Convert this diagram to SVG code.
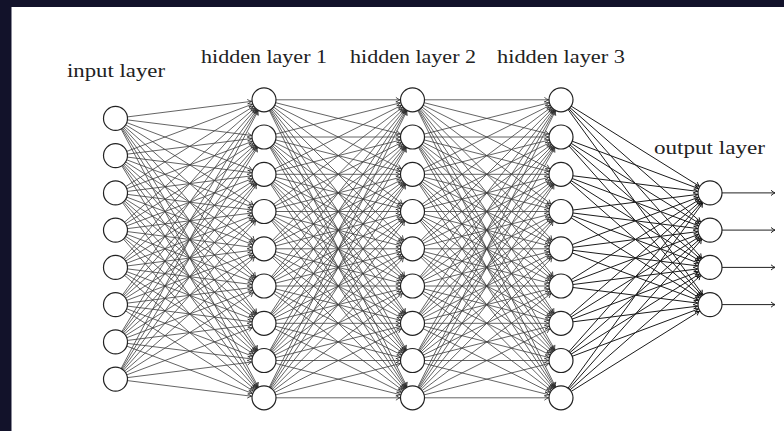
<svg xmlns="http://www.w3.org/2000/svg" xmlns:xlink="http://www.w3.org/1999/xlink" width="784" height="431" viewBox="0 0 784 431">
<style>
.e line{stroke:#3c3c3c;stroke-width:0.8;marker-end:url(#ah)}
.eo line{stroke:#1a1a1a;stroke-width:1;marker-end:url(#ah2)}
.n circle{fill:#fff;stroke:#222;stroke-width:1.2}
.t{font-family:"Liberation Serif","DejaVu Serif",serif;font-size:18px;fill:#222;text-anchor:middle}
.out{stroke:#222;stroke-width:1;marker-end:url(#ao)}
</style>
<defs>
<marker id="ah" markerUnits="userSpaceOnUse" orient="auto" refX="12.6" refY="0" markerWidth="10" markerHeight="10" overflow="visible"><path d="M-4,-2.4 Q-1.6,-0.6 0,0 Q-1.6,0.6 -4,2.4" fill="none" stroke="#2a2a2a" stroke-width="0.8"/></marker>
<marker id="ah2" markerUnits="userSpaceOnUse" orient="auto" refX="12.6" refY="0" markerWidth="10" markerHeight="10" overflow="visible"><path d="M-4,-2.4 Q-1.6,-0.6 0,0 Q-1.6,0.6 -4,2.4" fill="none" stroke="#111" stroke-width="0.9"/></marker>
<marker id="ao" markerUnits="userSpaceOnUse" orient="auto" refX="0" refY="0" markerWidth="10" markerHeight="10" overflow="visible"><path d="M-4,-2.6 Q-1.6,-0.6 0,0 Q-1.6,0.6 -4,2.6" fill="none" stroke="#222" stroke-width="1"/></marker>
<g id="hh" class="e">
<line y1="99.8" x2="148.5" y2="99.8"/><line y1="99.8" x2="148.5" y2="137"/><line y1="99.8" x2="148.5" y2="174.3"/><line y1="99.8" x2="148.5" y2="211.5"/><line y1="99.8" x2="148.5" y2="248.8"/><line y1="99.8" x2="148.5" y2="286"/><line y1="99.8" x2="148.5" y2="323.3"/><line y1="99.8" x2="148.5" y2="360.5"/><line y1="99.8" x2="148.5" y2="397.8"/>
<line y1="137" x2="148.5" y2="99.8"/><line y1="137" x2="148.5" y2="137"/><line y1="137" x2="148.5" y2="174.3"/><line y1="137" x2="148.5" y2="211.5"/><line y1="137" x2="148.5" y2="248.8"/><line y1="137" x2="148.5" y2="286"/><line y1="137" x2="148.5" y2="323.3"/><line y1="137" x2="148.5" y2="360.5"/><line y1="137" x2="148.5" y2="397.8"/>
<line y1="174.3" x2="148.5" y2="99.8"/><line y1="174.3" x2="148.5" y2="137"/><line y1="174.3" x2="148.5" y2="174.3"/><line y1="174.3" x2="148.5" y2="211.5"/><line y1="174.3" x2="148.5" y2="248.8"/><line y1="174.3" x2="148.5" y2="286"/><line y1="174.3" x2="148.5" y2="323.3"/><line y1="174.3" x2="148.5" y2="360.5"/><line y1="174.3" x2="148.5" y2="397.8"/>
<line y1="211.5" x2="148.5" y2="99.8"/><line y1="211.5" x2="148.5" y2="137"/><line y1="211.5" x2="148.5" y2="174.3"/><line y1="211.5" x2="148.5" y2="211.5"/><line y1="211.5" x2="148.5" y2="248.8"/><line y1="211.5" x2="148.5" y2="286"/><line y1="211.5" x2="148.5" y2="323.3"/><line y1="211.5" x2="148.5" y2="360.5"/><line y1="211.5" x2="148.5" y2="397.8"/>
<line y1="248.8" x2="148.5" y2="99.8"/><line y1="248.8" x2="148.5" y2="137"/><line y1="248.8" x2="148.5" y2="174.3"/><line y1="248.8" x2="148.5" y2="211.5"/><line y1="248.8" x2="148.5" y2="248.8"/><line y1="248.8" x2="148.5" y2="286"/><line y1="248.8" x2="148.5" y2="323.3"/><line y1="248.8" x2="148.5" y2="360.5"/><line y1="248.8" x2="148.5" y2="397.8"/>
<line y1="286" x2="148.5" y2="99.8"/><line y1="286" x2="148.5" y2="137"/><line y1="286" x2="148.5" y2="174.3"/><line y1="286" x2="148.5" y2="211.5"/><line y1="286" x2="148.5" y2="248.8"/><line y1="286" x2="148.5" y2="286"/><line y1="286" x2="148.5" y2="323.3"/><line y1="286" x2="148.5" y2="360.5"/><line y1="286" x2="148.5" y2="397.8"/>
<line y1="323.3" x2="148.5" y2="99.8"/><line y1="323.3" x2="148.5" y2="137"/><line y1="323.3" x2="148.5" y2="174.3"/><line y1="323.3" x2="148.5" y2="211.5"/><line y1="323.3" x2="148.5" y2="248.8"/><line y1="323.3" x2="148.5" y2="286"/><line y1="323.3" x2="148.5" y2="323.3"/><line y1="323.3" x2="148.5" y2="360.5"/><line y1="323.3" x2="148.5" y2="397.8"/>
<line y1="360.5" x2="148.5" y2="99.8"/><line y1="360.5" x2="148.5" y2="137"/><line y1="360.5" x2="148.5" y2="174.3"/><line y1="360.5" x2="148.5" y2="211.5"/><line y1="360.5" x2="148.5" y2="248.8"/><line y1="360.5" x2="148.5" y2="286"/><line y1="360.5" x2="148.5" y2="323.3"/><line y1="360.5" x2="148.5" y2="360.5"/><line y1="360.5" x2="148.5" y2="397.8"/>
<line y1="397.8" x2="148.5" y2="99.8"/><line y1="397.8" x2="148.5" y2="137"/><line y1="397.8" x2="148.5" y2="174.3"/><line y1="397.8" x2="148.5" y2="211.5"/><line y1="397.8" x2="148.5" y2="248.8"/><line y1="397.8" x2="148.5" y2="286"/><line y1="397.8" x2="148.5" y2="323.3"/><line y1="397.8" x2="148.5" y2="360.5"/><line y1="397.8" x2="148.5" y2="397.8"/>
</g>
</defs>
<rect x="0" y="0" width="784" height="431" fill="#12122a"/>
<rect x="12" y="7" width="772" height="424" fill="#fff"/>
<line x1="11.5" y1="7" x2="11.5" y2="431" stroke="#8a8a98" stroke-width="1"/>
<g id="connectors">
<g id="in-h1" class="e" transform="translate(115.5,0)">
<line y1="118.4" x2="148.5" y2="99.8"/><line y1="118.4" x2="148.5" y2="137"/><line y1="118.4" x2="148.5" y2="174.3"/><line y1="118.4" x2="148.5" y2="211.5"/><line y1="118.4" x2="148.5" y2="248.8"/><line y1="118.4" x2="148.5" y2="286"/><line y1="118.4" x2="148.5" y2="323.3"/><line y1="118.4" x2="148.5" y2="360.5"/><line y1="118.4" x2="148.5" y2="397.8"/>
<line y1="155.6" x2="148.5" y2="99.8"/><line y1="155.6" x2="148.5" y2="137"/><line y1="155.6" x2="148.5" y2="174.3"/><line y1="155.6" x2="148.5" y2="211.5"/><line y1="155.6" x2="148.5" y2="248.8"/><line y1="155.6" x2="148.5" y2="286"/><line y1="155.6" x2="148.5" y2="323.3"/><line y1="155.6" x2="148.5" y2="360.5"/><line y1="155.6" x2="148.5" y2="397.8"/>
<line y1="192.9" x2="148.5" y2="99.8"/><line y1="192.9" x2="148.5" y2="137"/><line y1="192.9" x2="148.5" y2="174.3"/><line y1="192.9" x2="148.5" y2="211.5"/><line y1="192.9" x2="148.5" y2="248.8"/><line y1="192.9" x2="148.5" y2="286"/><line y1="192.9" x2="148.5" y2="323.3"/><line y1="192.9" x2="148.5" y2="360.5"/><line y1="192.9" x2="148.5" y2="397.8"/>
<line y1="230.1" x2="148.5" y2="99.8"/><line y1="230.1" x2="148.5" y2="137"/><line y1="230.1" x2="148.5" y2="174.3"/><line y1="230.1" x2="148.5" y2="211.5"/><line y1="230.1" x2="148.5" y2="248.8"/><line y1="230.1" x2="148.5" y2="286"/><line y1="230.1" x2="148.5" y2="323.3"/><line y1="230.1" x2="148.5" y2="360.5"/><line y1="230.1" x2="148.5" y2="397.8"/>
<line y1="267.4" x2="148.5" y2="99.8"/><line y1="267.4" x2="148.5" y2="137"/><line y1="267.4" x2="148.5" y2="174.3"/><line y1="267.4" x2="148.5" y2="211.5"/><line y1="267.4" x2="148.5" y2="248.8"/><line y1="267.4" x2="148.5" y2="286"/><line y1="267.4" x2="148.5" y2="323.3"/><line y1="267.4" x2="148.5" y2="360.5"/><line y1="267.4" x2="148.5" y2="397.8"/>
<line y1="304.6" x2="148.5" y2="99.8"/><line y1="304.6" x2="148.5" y2="137"/><line y1="304.6" x2="148.5" y2="174.3"/><line y1="304.6" x2="148.5" y2="211.5"/><line y1="304.6" x2="148.5" y2="248.8"/><line y1="304.6" x2="148.5" y2="286"/><line y1="304.6" x2="148.5" y2="323.3"/><line y1="304.6" x2="148.5" y2="360.5"/><line y1="304.6" x2="148.5" y2="397.8"/>
<line y1="341.9" x2="148.5" y2="99.8"/><line y1="341.9" x2="148.5" y2="137"/><line y1="341.9" x2="148.5" y2="174.3"/><line y1="341.9" x2="148.5" y2="211.5"/><line y1="341.9" x2="148.5" y2="248.8"/><line y1="341.9" x2="148.5" y2="286"/><line y1="341.9" x2="148.5" y2="323.3"/><line y1="341.9" x2="148.5" y2="360.5"/><line y1="341.9" x2="148.5" y2="397.8"/>
<line y1="379.1" x2="148.5" y2="99.8"/><line y1="379.1" x2="148.5" y2="137"/><line y1="379.1" x2="148.5" y2="174.3"/><line y1="379.1" x2="148.5" y2="211.5"/><line y1="379.1" x2="148.5" y2="248.8"/><line y1="379.1" x2="148.5" y2="286"/><line y1="379.1" x2="148.5" y2="323.3"/><line y1="379.1" x2="148.5" y2="360.5"/><line y1="379.1" x2="148.5" y2="397.8"/>
</g>
<use id="h1-h2" xlink:href="#hh" href="#hh" x="264" y="0"/>
<use id="h2-h3" xlink:href="#hh" href="#hh" x="412.5" y="0"/>
<g id="h3-out" class="eo" transform="translate(561,0)">
<line y1="99.8" x2="149" y2="192.9"/><line y1="99.8" x2="149" y2="230.1"/><line y1="99.8" x2="149" y2="267.4"/><line y1="99.8" x2="149" y2="304.6"/>
<line y1="137" x2="149" y2="192.9"/><line y1="137" x2="149" y2="230.1"/><line y1="137" x2="149" y2="267.4"/><line y1="137" x2="149" y2="304.6"/>
<line y1="174.3" x2="149" y2="192.9"/><line y1="174.3" x2="149" y2="230.1"/><line y1="174.3" x2="149" y2="267.4"/><line y1="174.3" x2="149" y2="304.6"/>
<line y1="211.5" x2="149" y2="192.9"/><line y1="211.5" x2="149" y2="230.1"/><line y1="211.5" x2="149" y2="267.4"/><line y1="211.5" x2="149" y2="304.6"/>
<line y1="248.8" x2="149" y2="192.9"/><line y1="248.8" x2="149" y2="230.1"/><line y1="248.8" x2="149" y2="267.4"/><line y1="248.8" x2="149" y2="304.6"/>
<line y1="286" x2="149" y2="192.9"/><line y1="286" x2="149" y2="230.1"/><line y1="286" x2="149" y2="267.4"/><line y1="286" x2="149" y2="304.6"/>
<line y1="323.3" x2="149" y2="192.9"/><line y1="323.3" x2="149" y2="230.1"/><line y1="323.3" x2="149" y2="267.4"/><line y1="323.3" x2="149" y2="304.6"/>
<line y1="360.5" x2="149" y2="192.9"/><line y1="360.5" x2="149" y2="230.1"/><line y1="360.5" x2="149" y2="267.4"/><line y1="360.5" x2="149" y2="304.6"/>
<line y1="397.8" x2="149" y2="192.9"/><line y1="397.8" x2="149" y2="230.1"/><line y1="397.8" x2="149" y2="267.4"/><line y1="397.8" x2="149" y2="304.6"/>
</g>
<g id="outputs">
<line class="out" x1="722" y1="192.9" x2="775" y2="192.9"/>
<line class="out" x1="722" y1="230.1" x2="775" y2="230.1"/>
<line class="out" x1="722" y1="267.4" x2="775" y2="267.4"/>
<line class="out" x1="722" y1="304.6" x2="775" y2="304.6"/>
</g>
</g>
<g id="input-layer" class="n">
<g id="in1"><circle cx="115.5" cy="118.4" r="12"/></g>
<g id="in2"><circle cx="115.5" cy="155.6" r="12"/></g>
<g id="in3"><circle cx="115.5" cy="192.9" r="12"/></g>
<g id="in4"><circle cx="115.5" cy="230.1" r="12"/></g>
<g id="in5"><circle cx="115.5" cy="267.4" r="12"/></g>
<g id="in6"><circle cx="115.5" cy="304.6" r="12"/></g>
<g id="in7"><circle cx="115.5" cy="341.9" r="12"/></g>
<g id="in8"><circle cx="115.5" cy="379.1" r="12"/></g>
</g>
<g id="hidden-layer-1" class="n">
<g id="h1n1"><circle cx="264" cy="99.8" r="12"/></g>
<g id="h1n2"><circle cx="264" cy="137" r="12"/></g>
<g id="h1n3"><circle cx="264" cy="174.3" r="12"/></g>
<g id="h1n4"><circle cx="264" cy="211.5" r="12"/></g>
<g id="h1n5"><circle cx="264" cy="248.8" r="12"/></g>
<g id="h1n6"><circle cx="264" cy="286" r="12"/></g>
<g id="h1n7"><circle cx="264" cy="323.3" r="12"/></g>
<g id="h1n8"><circle cx="264" cy="360.5" r="12"/></g>
<g id="h1n9"><circle cx="264" cy="397.8" r="12"/></g>
</g>
<g id="hidden-layer-2" class="n">
<g id="h2n1"><circle cx="412.5" cy="99.8" r="12"/></g>
<g id="h2n2"><circle cx="412.5" cy="137" r="12"/></g>
<g id="h2n3"><circle cx="412.5" cy="174.3" r="12"/></g>
<g id="h2n4"><circle cx="412.5" cy="211.5" r="12"/></g>
<g id="h2n5"><circle cx="412.5" cy="248.8" r="12"/></g>
<g id="h2n6"><circle cx="412.5" cy="286" r="12"/></g>
<g id="h2n7"><circle cx="412.5" cy="323.3" r="12"/></g>
<g id="h2n8"><circle cx="412.5" cy="360.5" r="12"/></g>
<g id="h2n9"><circle cx="412.5" cy="397.8" r="12"/></g>
</g>
<g id="hidden-layer-3" class="n">
<g id="h3n1"><circle cx="561" cy="99.8" r="12"/></g>
<g id="h3n2"><circle cx="561" cy="137" r="12"/></g>
<g id="h3n3"><circle cx="561" cy="174.3" r="12"/></g>
<g id="h3n4"><circle cx="561" cy="211.5" r="12"/></g>
<g id="h3n5"><circle cx="561" cy="248.8" r="12"/></g>
<g id="h3n6"><circle cx="561" cy="286" r="12"/></g>
<g id="h3n7"><circle cx="561" cy="323.3" r="12"/></g>
<g id="h3n8"><circle cx="561" cy="360.5" r="12"/></g>
<g id="h3n9"><circle cx="561" cy="397.8" r="12"/></g>
</g>
<g id="output-layer" class="n">
<g id="o1"><circle cx="710" cy="192.9" r="12"/></g>
<g id="o2"><circle cx="710" cy="230.1" r="12"/></g>
<g id="o3"><circle cx="710" cy="267.4" r="12"/></g>
<g id="o4"><circle cx="710" cy="304.6" r="12"/></g>
</g>
<g id="labels">
<text class="t" x="116" y="77" textLength="98" lengthAdjust="spacingAndGlyphs">input layer</text>
<text class="t" x="264" y="63" textLength="126" lengthAdjust="spacingAndGlyphs">hidden layer 1</text>
<text class="t" x="413" y="63" textLength="126" lengthAdjust="spacingAndGlyphs">hidden layer 2</text>
<text class="t" x="561" y="63" textLength="128" lengthAdjust="spacingAndGlyphs">hidden layer 3</text>
<text class="t" x="709.5" y="154" textLength="111" lengthAdjust="spacingAndGlyphs">output layer</text>
</g>
</svg>
